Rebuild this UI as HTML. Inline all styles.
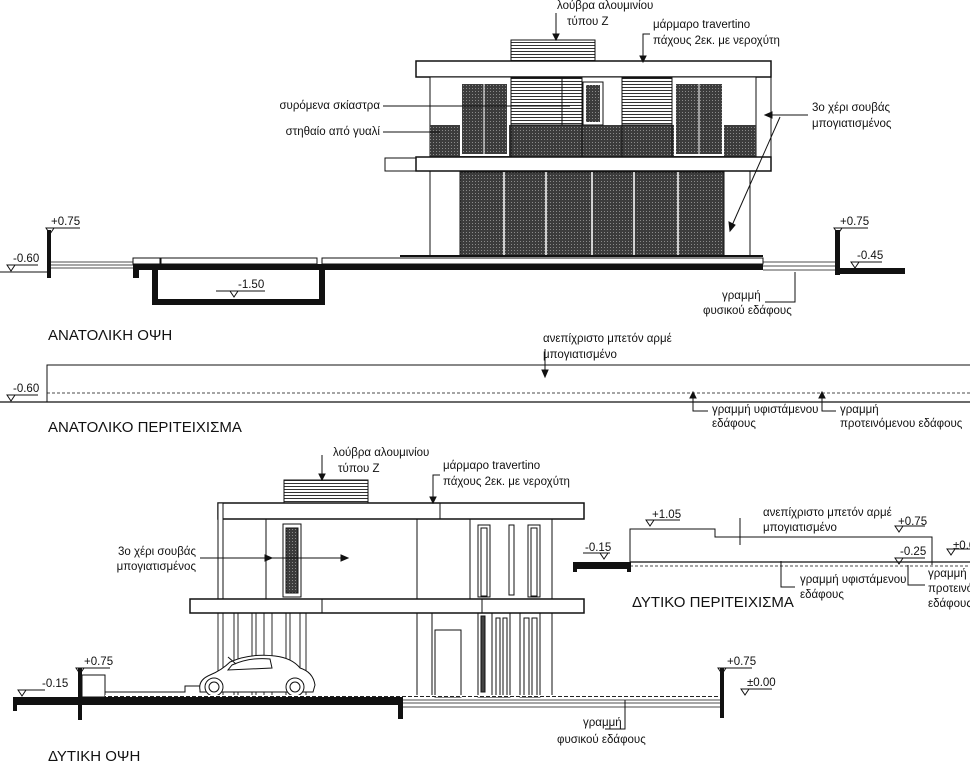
<!DOCTYPE html>
<html><head><meta charset="utf-8"><style>
html,body{margin:0;padding:0;background:#fff;}
svg{display:block}
text{font-family:"Liberation Sans Narrow","Liberation Sans",sans-serif;fill:#111;font-size:11.5px}
.t{font-size:15px;font-family:"Liberation Sans Narrow","Liberation Sans",sans-serif}
</style></head><body>
<svg width="970" height="764" viewBox="0 0 970 764" xmlns="http://www.w3.org/2000/svg">
<defs>
<pattern id="d" width="3" height="3" patternUnits="userSpaceOnUse"><rect width="3" height="3" fill="#3c3c3c"/><rect x="1" y="1" width="1" height="1" fill="#8a8a8a"/></pattern>
<pattern id="lv" width="4" height="3" patternUnits="userSpaceOnUse"><rect width="4" height="3" fill="#fff"/><rect width="4" height="1" fill="#333"/></pattern>
<pattern id="hz" width="6" height="2" patternUnits="userSpaceOnUse"><rect width="6" height="2" fill="#fff"/><rect width="4" height="1" fill="#222"/></pattern>
</defs>
<g stroke="#111" fill="none" stroke-width="1">

<!-- ===== TOP ELEVATION ===== -->
<rect x="511" y="40" width="84" height="21" fill="url(#lv)"/>
<rect x="416" y="61" width="355" height="16" fill="#fff" stroke-width="1.5"/>
<line x1="771" y1="61" x2="771" y2="171"/>
<rect x="430" y="77" width="326" height="80" fill="#fff"/>
<rect x="430" y="125" width="326" height="32" fill="url(#d)" stroke="none"/>
<rect x="461" y="83" width="47" height="72" fill="url(#d)" stroke="#fff" stroke-width="2"/>
<line x1="484" y1="83" x2="484" y2="155" stroke="#fff"/>
<rect x="675" y="83" width="48" height="72" fill="url(#d)" stroke="#fff" stroke-width="2"/>
<line x1="699" y1="83" x2="699" y2="155" stroke="#fff"/>
<rect x="511" y="78" width="51" height="47" fill="url(#lv)"/>
<rect x="562" y="78" width="20" height="47" fill="url(#lv)"/>
<rect x="622" y="78" width="50" height="47" fill="url(#lv)"/>
<rect x="511" y="125" width="71" height="32" fill="none"/>
<rect x="622" y="125" width="50" height="32" fill="none"/>
<rect x="585" y="84" width="16" height="39" fill="url(#d)" stroke="#fff" stroke-width="2"/>
<rect x="583" y="82" width="20" height="43"/>
<rect x="416" y="157" width="355" height="14" fill="#fff" stroke-width="1.5"/>
<rect x="385" y="158" width="31" height="13"/>
<line x1="430" y1="171" x2="430" y2="256"/><line x1="750" y1="171" x2="750" y2="256"/>
<rect x="460" y="172" width="264" height="84" fill="url(#d)"/>
<g stroke="#fff" stroke-width="1.5">
<line x1="504" y1="172" x2="504" y2="256"/><line x1="546" y1="172" x2="546" y2="256"/><line x1="592" y1="172" x2="592" y2="256"/><line x1="634" y1="172" x2="634" y2="256"/><line x1="678" y1="172" x2="678" y2="256"/>
</g>
<line x1="400" y1="256" x2="763" y2="256" stroke-width="2"/>
<!-- ground top -->
<rect x="47" y="230" width="4" height="48" fill="#111" stroke="none"/>
<g stroke-width="0.8"><line x1="51" y1="262" x2="133" y2="262"/><line x1="51" y1="265" x2="133" y2="265"/><line x1="51" y1="268" x2="133" y2="268"/></g>
<rect x="133" y="258" width="28" height="6"/>
<rect x="133" y="264" width="630" height="6" fill="#111" stroke="none"/>
<rect x="133" y="264" width="6" height="14" fill="#111" stroke="none"/>
<path d="M155 264 V302 H322 V264" stroke-width="6"/>
<rect x="160" y="258" width="157" height="6"/>
<rect x="322" y="258" width="441" height="6" fill="#fff"/>
<g stroke-width="0.8"><line x1="763" y1="262" x2="835" y2="262"/><line x1="763" y1="266" x2="835" y2="266"/><line x1="763" y1="270" x2="835" y2="270"/></g>
<rect x="835" y="230" width="5" height="45" fill="#111" stroke="none"/>
<rect x="840" y="268" width="65" height="6" fill="#111" stroke="none"/>
<line x1="0" y1="272" x2="47" y2="272"/>
<!-- leaders top -->
<path d="M556 13 V40" /><path d="M553 34 L556 40 L559 34Z" fill="#111"/>
<path d="M650 34 H643 V62"/><path d="M640 56 L643 62 L646 56Z" fill="#111"/>
<line x1="383" y1="106" x2="570" y2="106"/>
<line x1="383" y1="132" x2="440" y2="132"/>
<path d="M808 115 H766"/><path d="M772 112 L765 115 L772 118Z" fill="#111"/>
<path d="M780 117 L730 230"/><path d="M729 222 L730 231 L735 225Z" fill="#111"/>
<path d="M765 302 H795 V272"/>
<!-- level markers top -->
<path d="M50 228 H80 M46 228 L54 228 L50 234Z" fill="none"/>
<path d="M11 265 H38 M7 265 L15 265 L11 271Z"/>
<path d="M216 291 H265 M230 291 L238 291 L234 297Z"/>
<path d="M838 228 H868 M834 228 L842 228 L838 234Z"/>
<path d="M855 262 H882 M851 262 L859 262 L855 268Z"/>

<!-- ===== MIDDLE WALL ===== -->
<path d="M47 402 V365 H970"/>
<line x1="0" y1="402" x2="970" y2="402" stroke-width="1.2"/>
<line x1="47" y1="393" x2="970" y2="393" stroke-dasharray="3,2" stroke-width="0.8"/>
<path d="M11 395 H38 M7 395 L15 395 L11 401Z"/>
<path d="M545 349 V376"/><path d="M542 370 L545 377 L548 370Z" fill="#111"/>
<path d="M693 392 V411 H708"/><path d="M690 398 L693 392 L696 398Z" fill="#111"/>
<path d="M822 392 V411 H836"/><path d="M819 398 L822 392 L825 398Z" fill="#111"/>

<!-- ===== BOTTOM ELEVATION ===== -->
<rect x="284" y="480" width="84" height="23" fill="url(#lv)"/>
<rect x="218" y="503" width="366" height="16" fill="#fff" stroke-width="1.5"/>
<line x1="440" y1="503" x2="440" y2="519"/>
<rect x="218" y="503" width="5" height="96" fill="#fff"/>
<line x1="223" y1="519" x2="552" y2="519"/>
<line x1="266" y1="519" x2="266" y2="599"/><line x1="417" y1="519" x2="417" y2="599"/><line x1="470" y1="519" x2="470" y2="599"/><line x1="552" y1="519" x2="552" y2="599"/>
<rect x="283" y="524" width="18" height="73"/>
<rect x="286" y="528" width="12" height="65" fill="url(#d)"/>
<rect x="478" y="525" width="12" height="72"/><rect x="481" y="528" width="6" height="68"/>
<rect x="509" y="525" width="5" height="70"/>
<rect x="528" y="525" width="12" height="72"/><rect x="531" y="528" width="6" height="68"/>
<rect x="190" y="599" width="394" height="14" fill="#fff" stroke-width="1.5"/>
<line x1="322" y1="599" x2="322" y2="613"/><line x1="482" y1="599" x2="482" y2="613"/>
<g stroke-width="0.9">
<line x1="218" y1="613" x2="218" y2="697"/><line x1="223" y1="613" x2="223" y2="697"/>
<line x1="234" y1="613" x2="234" y2="697"/><line x1="238" y1="613" x2="238" y2="697"/>
<line x1="252" y1="613" x2="252" y2="697"/><line x1="256" y1="613" x2="256" y2="697"/>
<line x1="264" y1="613" x2="264" y2="697"/><line x1="272" y1="613" x2="272" y2="697"/>
<line x1="286" y1="613" x2="286" y2="697"/><line x1="290" y1="613" x2="290" y2="697"/>
<line x1="300" y1="613" x2="300" y2="697"/><line x1="306" y1="613" x2="306" y2="697"/>
</g>
<line x1="417" y1="613" x2="417" y2="697"/><line x1="432" y1="613" x2="432" y2="697"/><line x1="552" y1="613" x2="552" y2="697"/>
<rect x="435" y="630" width="26" height="67"/>
<rect x="478" y="613" width="14" height="84"/><rect x="481" y="616" width="4" height="76" fill="#444"/>
<rect x="492" y="613" width="18" height="84"/><rect x="496" y="618" width="4" height="78"/><rect x="503" y="618" width="4" height="78"/>
<rect x="520" y="613" width="20" height="84"/><rect x="524" y="618" width="5" height="78"/><rect x="532" y="618" width="5" height="78"/>
<!-- car -->
<path d="M200 690 Q198 680 210 675 Q222 670 230 662 Q250 653 275 656 Q292 658 300 668 Q313 672 315 685 L313 692 L200 692Z" fill="#fff"/>
<path d="M232 665 Q250 657 270 659 L272 668 L228 670Z"/>
<circle cx="214" cy="687" r="9" fill="#fff"/><circle cx="214" cy="687" r="5"/>
<circle cx="295" cy="687" r="9" fill="#fff"/><circle cx="295" cy="687" r="5"/>
<line x1="228" y1="657" x2="236" y2="664"/>
<!-- ground bottom -->
<rect x="13" y="697" width="389" height="8" fill="#111" stroke="none"/>
<rect x="13" y="697" width="4" height="14" fill="#111" stroke="none"/>
<rect x="78" y="668" width="4" height="52" fill="#111" stroke="none"/>
<rect x="82" y="675" width="23" height="22" fill="#fff"/>
<path d="M105 692 H185 V686 H200"/>
<rect x="398" y="697" width="5" height="22" fill="#111" stroke="none"/>
<line x1="105" y1="696" x2="720" y2="696" stroke="url(#hz)" stroke-width="2"/>
<g stroke-width="0.8"><line x1="403" y1="700" x2="720" y2="700"/><line x1="403" y1="703" x2="720" y2="703"/><line x1="403" y1="707" x2="720" y2="707"/></g>
<rect x="720" y="668" width="4" height="50" fill="#111" stroke="none"/>
<path d="M625 700 V729 H605"/>
<path d="M322 455 V480"/><path d="M319 474 L322 480 L325 474Z" fill="#111"/>
<path d="M440 475 H433 V503"/><path d="M430 497 L433 503 L436 497Z" fill="#111"/>
<line x1="200" y1="558" x2="348" y2="558"/>
<path d="M341 555 L348 558 L341 561Z" fill="#111"/><path d="M265 555 L272 558 L265 561Z" fill="#111"/>
<path d="M80 668 H110 M76 668 L84 668 L80 674Z"/>
<path d="M20 690 H45 M18 690 L26 690 L22 696Z"/>
<path d="M722 668 H752 M718 668 L726 668 L722 674Z"/>
<path d="M745 689 H772 M741 689 L749 689 L745 695Z"/>

<!-- ===== WEST WALL ===== -->
<rect x="573" y="562" width="57" height="7" fill="#111" stroke="none"/>
<rect x="573" y="562" width="4" height="10" fill="#111" stroke="none"/>
<rect x="627" y="562" width="4" height="10" fill="#111" stroke="none"/>
<path d="M630 562 V529 H715 V537 H932 V565"/>
<line x1="630" y1="562" x2="970" y2="562" stroke-width="1.2"/>
<line x1="630" y1="566" x2="970" y2="566" stroke-dasharray="3,2" stroke-width="0.8"/>
<path d="M740 518 V545"/>
<path d="M781 561 V587 H795"/>
<path d="M908 565 V585 H925"/>
<path d="M650 520 H680 M646 520 L654 520 L650 526Z"/>
<path d="M583 553 H610 M600 553 L608 553 L604 559Z"/>
<path d="M895 526 H925 M895 526 L903 526 L899 532Z"/>
<path d="M895 558 H925 M895 558 L903 558 L899 564Z"/>
<path d="M950 549 H970 M947 549 L955 549 L951 555Z"/>
</g>

<!-- TEXT -->
<text x="557" y="9">λούβρα αλουμινίου</text>
<text x="567" y="25">τύπου Z</text>
<text x="653" y="28">μάρμαρο travertino</text>
<text x="653" y="44">πάχους 2εκ. με νεροχύτη</text>
<text x="380" y="109" text-anchor="end">συρόμενα σκίαστρα</text>
<text x="380" y="135" text-anchor="end">στηθαίο από γυαλί</text>
<text x="812" y="111">3ο χέρι σουβάς</text>
<text x="812" y="127">μπογιατισμένος</text>
<text x="51" y="225">+0.75</text>
<text x="13" y="262">-0.60</text>
<text x="238" y="288">-1.50</text>
<text x="840" y="225">+0.75</text>
<text x="857" y="259">-0.45</text>
<text x="722" y="299">γραμμή</text>
<text x="703" y="314">φυσικού εδάφους</text>
<text x="48" y="340" class="t">ΑΝΑΤΟΛΙΚΗ ΟΨΗ</text>
<text x="543" y="342">ανεπίχριστο μπετόν αρμέ</text>
<text x="543" y="358">μπογιατισμένο</text>
<text x="13" y="392">-0.60</text>
<text x="712" y="413">γραμμή υφιστάμενου</text>
<text x="712" y="427">εδάφους</text>
<text x="840" y="413">γραμμή</text>
<text x="840" y="427">προτεινόμενου εδάφους</text>
<text x="48" y="432" class="t">ΑΝΑΤΟΛΙΚΟ ΠΕΡΙΤΕΙΧΙΣΜΑ</text>
<text x="333" y="456">λούβρα αλουμινίου</text>
<text x="338" y="472">τύπου Z</text>
<text x="443" y="469">μάρμαρο travertino</text>
<text x="443" y="485">πάχους 2εκ. με νεροχύτη</text>
<text x="196" y="555" text-anchor="end">3ο χέρι σουβάς</text>
<text x="196" y="570" text-anchor="end">μπογιατισμένος</text>
<text x="652" y="518">+1.05</text>
<text x="585" y="551">-0.15</text>
<text x="763" y="516">ανεπίχριστο μπετόν αρμέ</text>
<text x="763" y="531">μπογιατισμένο</text>
<text x="898" y="525">+0.75</text>
<text x="900" y="555">-0.25</text>
<text x="953" y="549">±0.0</text>
<text x="800" y="583">γραμμή υφιστάμενου</text>
<text x="800" y="598">εδάφους</text>
<text x="928" y="577">γραμμή</text>
<text x="928" y="592">προτεινόμενου</text>
<text x="928" y="607">εδάφους</text>
<text x="632" y="607" class="t">ΔΥΤΙΚΟ ΠΕΡΙΤΕΙΧΙΣΜΑ</text>
<text x="84" y="665">+0.75</text>
<text x="42" y="687">-0.15</text>
<text x="727" y="665">+0.75</text>
<text x="747" y="686">±0.00</text>
<text x="583" y="726">γραμμή</text>
<text x="557" y="743">φυσικού εδάφους</text>
<text x="48" y="761" class="t">ΔΥΤΙΚΗ ΟΨΗ</text>
</svg>
</body></html>
